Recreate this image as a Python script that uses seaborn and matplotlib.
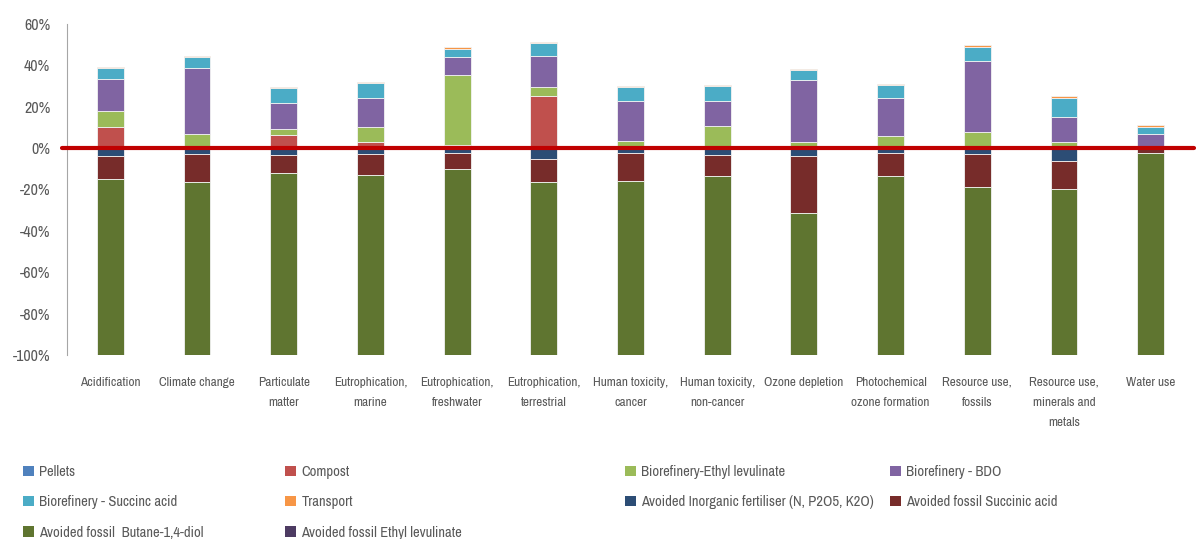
import numpy as np
import matplotlib
matplotlib.use('Agg')
import matplotlib.pyplot as plt
from matplotlib import font_manager
from matplotlib.patches import Patch
import seaborn as sns

# ── Data (share of total impact, %) ────────────────────────
categories = ['Acidification', 'Climate change', 'Particulate\nmatter',
              'Eutrophication,\nmarine', 'Eutrophication,\nfreshwater',
              'Eutrophication,\nterrestrial', 'Human toxicity,\ncancer',
              'Human toxicity,\nnon-cancer', 'Ozone depletion',
              'Photochemical\nozone formation', 'Resource use,\nfossils',
              'Resource use,\nminerals and\nmetals', 'Water use']

# positive contributions (stacked upward from 0)
pellets   = [0.3, 0.3, 0.3, 0.3, 0.5, 0.3, 0.3, 0.4, 0.3, 0.3, 0.3, 0.3, 0.2]
compost   = [10.0, 0.8, 6.1, 2.8, 0.8, 25.0, 0.0, 0.8, 0.0, 0.0, 0.0, 0.0, 0.0]
bio_el    = [7.5, 5.6, 2.7, 7.1, 34.2, 4.2, 3.1, 9.3, 2.5, 5.5, 7.3, 2.5, 0.3]
bio_bdo   = [15.5, 32.1, 12.6, 14.2, 8.6, 15.0, 19.5, 12.5, 30.0, 18.6, 34.3, 12.3, 6.5]
bio_sa    = [5.6, 5.1, 7.4, 6.9, 4.0, 6.1, 6.5, 7.0, 5.0, 6.0, 7.2, 9.3, 3.4]
transport = [0.5, 0.6, 0.6, 0.6, 0.8, 0.6, 0.6, 0.6, 0.6, 0.6, 0.7, 0.6, 0.8]

# avoided burdens (stacked downward from 0)
av_fert   = [-3.6, -2.8, -3.3, -2.6, -2.2, -5.2, -2.2, -3.3, -3.7, -2.3, -2.8, -6.3, -0.5]
av_sa     = [-11.2, -13.4, -8.6, -10.2, -7.8, -11.0, -13.8, -10.4, -27.8, -11.4, -16.0, -13.6, -2.0]
av_bdo    = [-85.2, -83.8, -88.1, -87.2, -90.0, -83.8, -84.0, -86.3, -68.5, -86.3, -81.2, -80.1, -97.5]
av_el     = [0.0, 0.0, 0.0, 0.0, 0.0, 0.0, 0.0, 0.0, 0.0, 0.0, 0.0, 0.0, 0.0]

yticks = [60, 40, 20, 0, -20, -40, -60, -80, -100]

# ── Style ──────────────────────────────────────────────────
sns.set_theme(style='white')
installed = {f.name for f in font_manager.fontManager.ttflist}
narrow = next((f for f in ['Archivo Narrow', 'Asap Condensed'] if f in installed), None)
if narrow:
    plt.rcParams['font.family'] = [narrow, 'DejaVu Sans']
    fs_x, fs_y, fs_leg, ls_x = 9.5, 11.5, 10.5, 2.05
else:
    plt.rcParams['font.family'] = ['DejaVu Sans']
    fs_x, fs_y, fs_leg, ls_x = 8, 10.5, 9, 1.6
TXT = '#595959'

positive = [('Pellets', pellets, '#4F81BD'),
            ('Compost', compost, '#C0504D'),
            ('Biorefinery-Ethyl levulinate', bio_el, '#9BBB59'),
            ('Biorefinery - BDO', bio_bdo, '#8064A2'),
            ('Biorefinery - Succinc acid', bio_sa, '#4BACC6'),
            ('Transport', transport, '#F79646')]
negative = [('Avoided Inorganic fertiliser (N, P2O5, K2O)', av_fert, '#2C4D75'),
            ('Avoided fossil Succinic acid', av_sa, '#772C2A'),
            ('Avoided fossil  Butane-1,4-diol', av_bdo, '#5F7530'),
            ('Avoided fossil Ethyl levulinate', av_el, '#4D3B62')]

fig = plt.figure(figsize=(11.97, 5.39), dpi=100)
ax = fig.add_axes([67/1197, 184/539, 1127/1197, 331/539])

colors = {}
for group in (positive, negative):
    base = np.zeros(len(categories))
    for name, vals, col in group:
        sns.barplot(x=categories, y=vals, bottom=base, color=col, saturation=1,
                    width=0.31, errorbar=None, edgecolor='#F2F2F2', linewidth=0.6,
                    ax=ax)
        base = base + np.array(vals)
        colors[name] = col

ax.axhline(0, xmin=-0.0045, xmax=1, color='#C00000', lw=3, clip_on=False, zorder=5)

ax.set_xlim(-0.5, len(categories) - 0.5)
ax.set_ylim(-100, 60)
ax.set_yticks(yticks)
ax.set_yticklabels([f'{v}%' for v in yticks])
ax.set_xticks(range(len(categories)))
ax.set_xticklabels(categories, linespacing=ls_x)
ax.tick_params(axis='y', length=0, pad=12, labelsize=fs_y, labelcolor=TXT)
ax.tick_params(axis='x', length=0, pad=15.5, labelsize=fs_x, labelcolor=TXT)
ax.set_xlabel('')
ax.set_ylabel('')
for s in ['top', 'right', 'bottom']:
    ax.spines[s].set_visible(False)
ax.spines['left'].set_color('#A6A6A6')
ax.spines['left'].set_linewidth(0.8)

# ── Legend: four columns placed like the original ──────────
legend_cols = [
    (23, ['Pellets', 'Biorefinery - Succinc acid', 'Avoided fossil  Butane-1,4-diol']),
    (285, ['Compost', 'Transport', 'Avoided fossil Ethyl levulinate']),
    (625, ['Biorefinery-Ethyl levulinate', 'Avoided Inorganic fertiliser (N, P2O5, K2O)']),
    (890, ['Biorefinery - BDO', 'Avoided fossil Succinic acid']),
]
for x0, names in legend_cols:
    handles = [Patch(facecolor=colors[n], edgecolor='none') for n in names]
    fig.legend(handles, names, loc='upper left',
               bbox_to_anchor=(x0/1197, (539-465)/539), frameon=False,
               fontsize=fs_leg, labelcolor=TXT, handlelength=0.72,
               handleheight=0.72, handletextpad=0.4, labelspacing=1.12,
               borderpad=0, borderaxespad=0)

fig.savefig('out.png', dpi=100)
